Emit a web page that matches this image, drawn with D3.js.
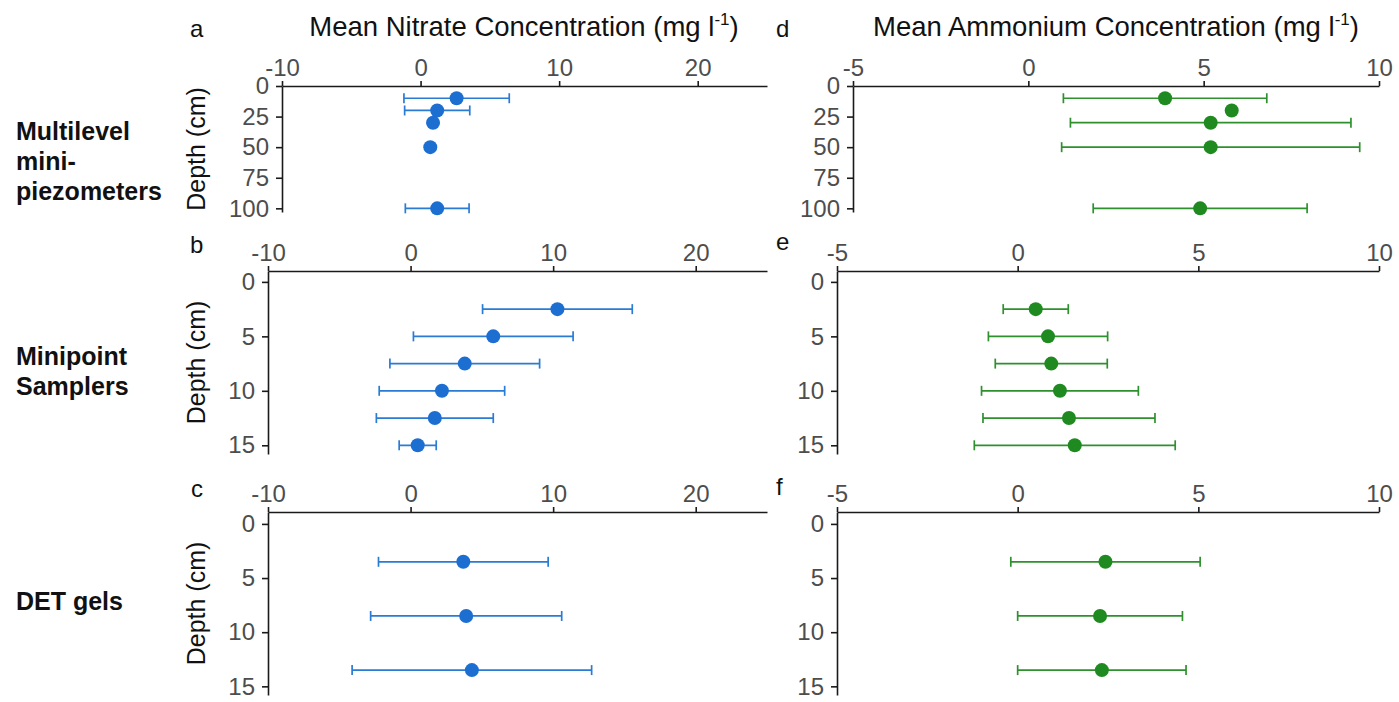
<!DOCTYPE html>
<html>
<head>
<meta charset="utf-8">
<script src="https://cdn.jsdelivr.net/npm/d3@7"></script>
<style>
  body { margin: 0; background: #fff; }
  svg text { font-family: "Liberation Sans", Arial, sans-serif; }
  .tick text { fill: #4d4d4d; font-size: 24px; }
  .tick line, .domain { stroke: #1a1a1a; stroke-width: 1.6px; }
</style>
</head>
<body>
<div id="chart"></div>
<script>
// depths (cm) per sampling method
const depthsMultilevel = [10, 20, 30, 50, 100];
const depthsMinipoint = [2.5, 5, 7.5, 10, 12.5, 15];
const depthsDET = [3.5, 8.5, 13.5];

// mean nitrate (mg l-1) and error half-widths
const nitrateMultilevel = [2.6, 1.2, 0.9, 0.7, 1.2];
const nitrateMultilevelErr = [3.8, 2.35, 0.25, 0.25, 2.3];
const nitrateMinipoint = [10.3, 5.8, 3.8, 2.2, 1.7, 0.5];
const nitrateMinipointErr = [5.25, 5.6, 5.25, 4.4, 4.1, 1.3];
const nitrateDET = [3.7, 3.9, 4.3];
const nitrateDETErr = [5.95, 6.7, 8.4];

// mean ammonium (mg l-1) and error half-widths
const ammoniumMultilevel = [3.9, 5.8, 5.2, 5.2, 4.9];
const ammoniumMultilevelErr = [2.9, 0.1, 4.0, 4.25, 3.05];
const ammoniumMinipoint = [0.5, 0.84, 0.93, 1.17, 1.42, 1.58];
const ammoniumMinipointErr = [0.9, 1.65, 1.55, 2.17, 2.38, 2.78];
const ammoniumDET = [2.43, 2.28, 2.33];
const ammoniumDETErr = [2.62, 2.28, 2.33];

const nitrateTicks = [-10, 0, 10, 20];
const ammoniumTicks = [-5, 0, 5, 10];
const depthTicksDeep = [0, 25, 50, 75, 100];
const depthTicksShallow = [0, 5, 10, 15];

const rowLabels = [["Multilevel", "mini-", "piezometers"], ["Minipoint", "Samplers"], ["DET gels"]];

const blue = "#1c6fd1", blueBar = "#2a7bd4";
const green = "#1f8a1f", greenBar = "#2e912e";

const svg = d3.select("#chart").append("svg")
    .attr("width", 1399)
    .attr("height", 702);

// titles
function title(cx, name) {
  const t = svg.append("text")
      .attr("x", cx).attr("y", 36)
      .attr("text-anchor", "middle")
      .style("font-size", "27.5px")
      .style("fill", "#111");
  t.append("tspan").text("Mean " + name + " Concentration (mg l");
  t.append("tspan").attr("dy", -11).style("font-size", "17px").text("-1");
  t.append("tspan").attr("dy", 11).text(")");
}
title(524, "Nitrate");
title(1116, "Ammonium");

// row labels on the left
const rowBaselines = [140, 365, 610];
rowLabels.forEach((lines, i) => {
  lines.forEach((s, j) => {
    svg.append("text")
        .attr("x", 16).attr("y", rowBaselines[i] + j * 30)
        .style("font-size", "25px").style("font-weight", "bold")
        .style("fill", "#111")
        .text(s);
  });
});

// plain hyphen for negatives, like the original figure
const fmt = d => String(d);

function panel(o) {
  const x = d3.scaleLinear().domain(o.xDomain).range(o.xRange);
  const y = d3.scaleLinear().domain(o.yDomain).range(o.yRange);
  const g = svg.append("g");

  g.append("g")
      .attr("transform", "translate(0," + o.yRange[0] + ")")
      .call(d3.axisTop(x).tickValues(o.xTicks).tickFormat(fmt)
        .tickSize(5).tickSizeOuter(0).tickPadding(5));
  g.append("g")
      .attr("transform", "translate(" + o.xRange[0] + ",0)")
      .call(d3.axisLeft(y).tickValues(o.yTicks).tickFormat(fmt)
        .tickSize(6).tickSizeOuter(0).tickPadding(7));

  // depth axis title
  if (o.depthTitle) {
    g.append("text")
        .attr("transform", "translate(205," + ((o.yRange[0] + o.yRange[1]) / 2) + ") rotate(-90)")
        .attr("text-anchor", "middle")
        .style("font-size", "25px").style("fill", "#111")
        .text("Depth (cm)");
  }

  // panel letter
  g.append("text")
      .attr("x", o.letterX).attr("y", o.letterY)
      .style("font-size", "24px").style("fill", "#111")
      .text(o.letter);

  const rows = o.depths.map((d, i) => ({depth: d, mean: o.means[i], err: o.errs[i]}));

  const bars = g.selectAll(".bar").data(rows).enter().append("g")
      .attr("stroke", o.barColor).attr("stroke-width", 1.7);
  bars.append("line")
      .attr("x1", d => x(d.mean - d.err)).attr("x2", d => x(d.mean + d.err))
      .attr("y1", d => y(d.depth)).attr("y2", d => y(d.depth));
  bars.append("line")
      .attr("x1", d => x(d.mean - d.err)).attr("x2", d => x(d.mean - d.err))
      .attr("y1", d => y(d.depth) - 5).attr("y2", d => y(d.depth) + 5);
  bars.append("line")
      .attr("x1", d => x(d.mean + d.err)).attr("x2", d => x(d.mean + d.err))
      .attr("y1", d => y(d.depth) - 5).attr("y2", d => y(d.depth) + 5);

  g.selectAll(".pt").data(rows).enter().append("circle")
      .attr("cx", d => x(d.mean))
      .attr("cy", d => y(d.depth))
      .attr("r", 7)
      .attr("fill", o.color);
}

const rowTop = {yDomain: [0, 103], yRange: [86, 212], yTicks: depthTicksDeep};
const rowMid = {yDomain: [-1, 15.8], yRange: [271, 454], yTicks: depthTicksShallow};
const rowBot = {yDomain: [-1.1, 15.8], yRange: [512, 695], yTicks: depthTicksShallow};

panel({...rowTop, xDomain: [-10, 25], xRange: [282, 767], xTicks: nitrateTicks,
  depths: depthsMultilevel, means: nitrateMultilevel, errs: nitrateMultilevelErr,
  color: blue, barColor: blueBar, letter: "a", letterX: 190, letterY: 37, depthTitle: true});
panel({...rowMid, xDomain: [-10, 25], xRange: [268, 767], xTicks: nitrateTicks,
  depths: depthsMinipoint, means: nitrateMinipoint, errs: nitrateMinipointErr,
  color: blue, barColor: blueBar, letter: "b", letterX: 190, letterY: 253, depthTitle: true});
panel({...rowBot, xDomain: [-10, 25], xRange: [268, 767], xTicks: nitrateTicks,
  depths: depthsDET, means: nitrateDET, errs: nitrateDETErr,
  color: blue, barColor: blueBar, letter: "c", letterX: 191, letterY: 497, depthTitle: true});

panel({...rowTop, xDomain: [-5, 10], xRange: [853, 1379], xTicks: ammoniumTicks,
  depths: depthsMultilevel, means: ammoniumMultilevel, errs: ammoniumMultilevelErr,
  color: green, barColor: greenBar, letter: "d", letterX: 776, letterY: 37});
panel({...rowMid, xDomain: [-5, 10], xRange: [837, 1379], xTicks: ammoniumTicks,
  depths: depthsMinipoint, means: ammoniumMinipoint, errs: ammoniumMinipointErr,
  color: green, barColor: greenBar, letter: "e", letterX: 776, letterY: 250});
panel({...rowBot, xDomain: [-5, 10], xRange: [837, 1379], xTicks: ammoniumTicks,
  depths: depthsDET, means: ammoniumDET, errs: ammoniumDETErr,
  color: green, barColor: greenBar, letter: "f", letterX: 776, letterY: 495});
</script>
</body>
</html>
